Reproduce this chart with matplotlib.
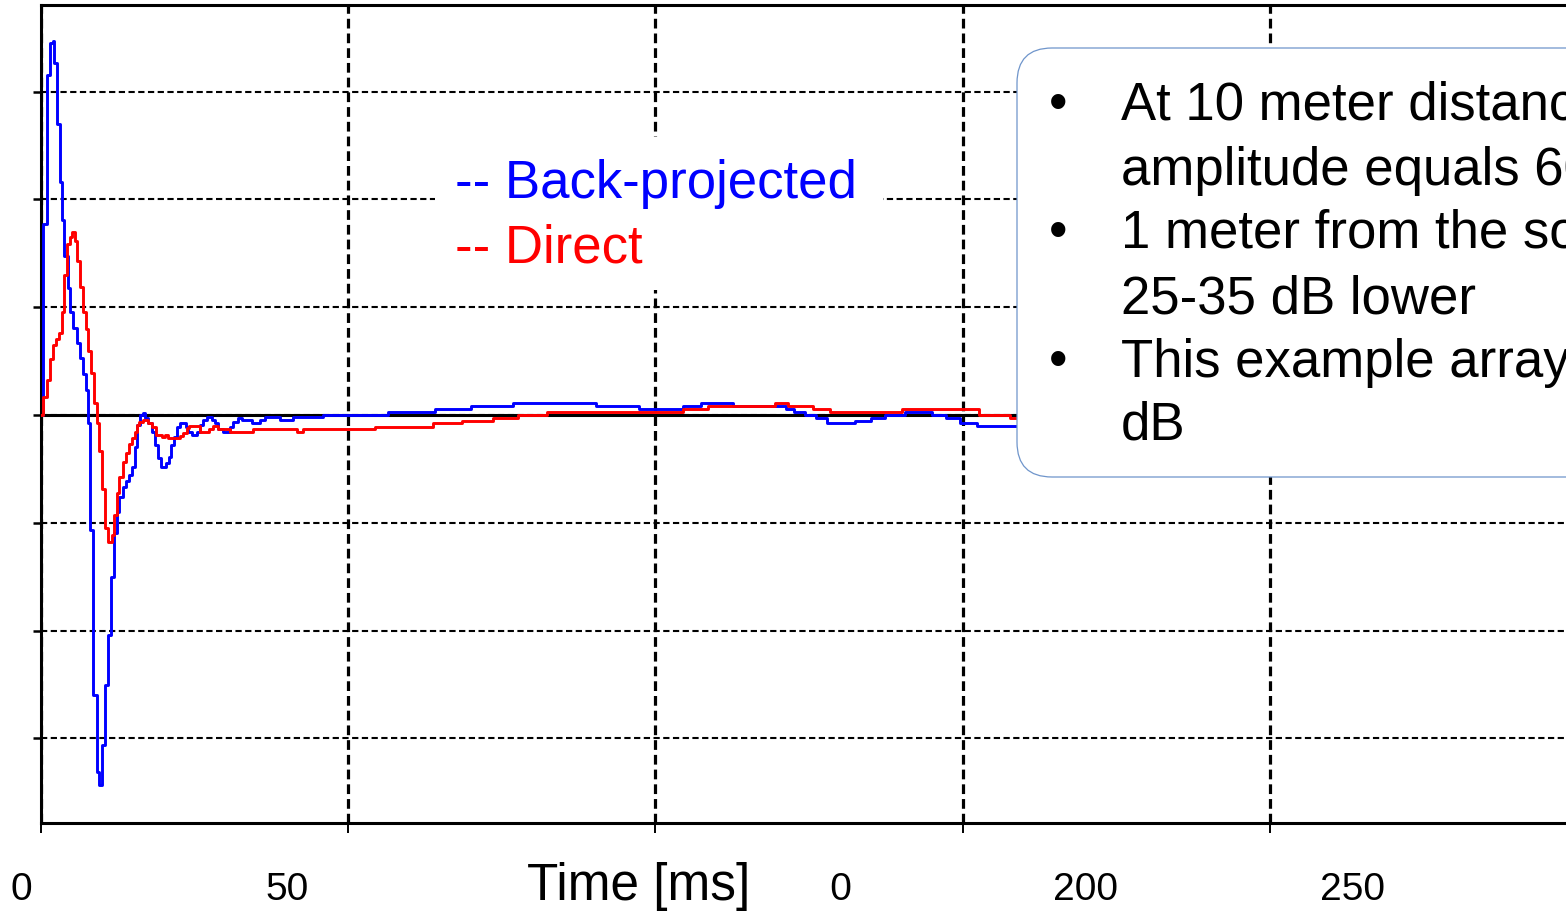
import matplotlib
matplotlib.use("Agg")
import matplotlib.pyplot as plt
from matplotlib.patches import FancyBboxPatch, Rectangle

plt.rcParams['font.family'] = ['Liberation Sans', 'DejaVu Sans']
plt.rcParams['lines.scale_dashes'] = False

# Back-projected response, time in ms, amplitude in grid units (step samples)
bp_time = [0, 0.37, 0.93, 1.46, 1.90, 2.12, 2.60, 3.09, 3.42, 3.74,
           4.34, 4.72, 5.21, 5.86, 6.35, 6.84, 7.32, 7.65, 7.97, 8.46,
           9.11, 9.44, 9.93, 10.42, 10.90, 11.39, 11.88, 12.37, 12.69, 13.34,
           13.83, 14.32, 14.81, 15.30, 15.62, 16.11, 16.60, 16.92, 17.41, 18.06,
           18.55, 19.04, 19.53, 20.34, 20.83, 21.16, 21.64, 22.13, 22.62, 23.60,
           23.92, 24.57, 25.39, 25.87, 26.36, 27.01, 27.83, 28.32, 28.80, 29.62,
           30.76, 31.24, 32.06, 32.71, 34.34, 35.64, 36.45, 38.89, 41.01, 45.89,
           56.47, 64.12, 69.98, 76.89, 90.32, 97.32, 104.47, 107.40, 112.61, 121.24,
           122.54, 124.33, 126.12, 127.91, 132.46, 135.07, 137.35, 140.60, 145.00, 147.27,
           149.55, 152.32, 165.0]
bp_amp = [0.0, 1.772, 3.154, 3.451, 3.472, 3.265, 2.699, 2.161, 1.809, 1.475,
          1.178, 0.955, 0.807, 0.668, 0.529, 0.380, 0.232, -0.074, -1.067, -2.597,
          -3.312, -3.432, -3.061, -2.505, -2.041, -1.503, -1.095, -0.900, -0.761, -0.668,
          -0.612, -0.557, -0.482, -0.297, -0.093, 0.0, 0.019, -0.028, -0.074, -0.158,
          -0.278, -0.399, -0.482, -0.445, -0.390, -0.278, -0.204, -0.111, -0.074, -0.111,
          -0.158, -0.186, -0.158, -0.093, -0.046, -0.019, -0.046, -0.074, -0.130, -0.158,
          -0.111, -0.065, -0.028, -0.046, -0.074, -0.046, -0.019, -0.046, -0.019, 0.0,
          0.025, 0.053, 0.083, 0.109, 0.083, 0.053, 0.083, 0.109, 0.083, 0.056,
          0.028, 0.0, -0.028, -0.074, -0.056, -0.028, 0.0, 0.028, 0.0, -0.028,
          -0.074, -0.102, -0.102]

# Direct response
direct_time = [0, 0.37, 0.93, 1.46, 1.90, 2.39, 2.93, 3.37, 3.79, 4.18,
               4.72, 5.00, 5.53, 5.91, 6.35, 6.79, 7.27, 7.70, 8.14, 8.62,
               9.06, 9.49, 9.88, 10.42, 10.95, 11.51, 11.88, 12.32, 12.74, 13.30,
               13.78, 14.27, 14.76, 15.30, 15.57, 16.00, 16.55, 17.36, 18.01, 18.71,
               19.64, 20.18, 20.67, 22.62, 23.16, 23.71, 24.08, 25.87, 27.34, 27.99,
               28.80, 30.76, 34.45, 41.66, 42.64, 54.35, 63.79, 68.51, 73.56, 77.62,
               82.34, 104.47, 108.54, 119.45, 121.56, 125.63, 128.40, 140.11, 152.64, 157.69,
               165.0]
direct_amp = [0.0, 0.167, 0.325, 0.519, 0.649, 0.705, 0.761, 0.955, 1.299, 1.586,
              1.651, 1.698, 1.614, 1.429, 1.187, 0.955, 0.798, 0.594, 0.390, 0.111,
              -0.074, -0.334, -0.686, -1.048, -1.178, -1.113, -0.928, -0.724, -0.575, -0.436,
              -0.353, -0.269, -0.213, -0.158, -0.093, -0.065, -0.046, -0.074, -0.111, -0.186,
              -0.204, -0.186, -0.213, -0.195, -0.167, -0.121, -0.102, -0.158, -0.130, -0.102,
              -0.130, -0.158, -0.130, -0.158, -0.130, -0.109, -0.077, -0.053, -0.025, 0.0,
              0.025, 0.053, 0.083, 0.109, 0.083, 0.056, 0.028, 0.056, 0.0, -0.028,
              -0.028]

x_grid = [0, 50, 100, 150, 200, 250, 300]
y_grid = [-3, -2, -1, 0, 1, 2, 3]
label_ticks = [0, 50, 100, 150, 200, 250]
legend_lines = ["-- Back-projected", "-- Direct"]
legend_colors = ["#0000ff", "#ff0000"]
note_lines = ["At 10 meter distance the", "amplitude equals 60 dB",
              "1 meter from the source", "25-35 dB lower",
              "This example array gives", "dB"]
note_bullets = [True, False, True, False, True, False]

W, H = 1566, 913


def fx(x):
    return x / W


def fy(y):
    return (H - y) / H


fig = plt.figure(figsize=(W / 100, H / 100), dpi=100)
fig.patch.set_facecolor("white")

# tick labels sit on their own (offset) scale, as on the slide
lab_ax = fig.add_axes([fx(21), fy(823), (1352 - 21) / W, 0.001])
lab_ax.set_xlim(0, 250)
lab_ax.set_xticks(label_ticks)
lab_ax.set_yticks([])
lab_ax.tick_params(axis="x", length=0, pad=35, labelsize=28)
lab_ax.patch.set_visible(False)
for s in lab_ax.spines.values():
    s.set_visible(False)

# main axes runs past the right edge of the slide crop
ax = fig.add_axes([fx(41), fy(823), 300 * 6.145 / W, (823 - 5) / H])
ax.set_xlim(0, 300)
ax.set_ylim(-3.785, 3.803)

ax.step(bp_time, bp_amp, where="post", color="#0000ff", lw=2.1, zorder=3)
ax.step(direct_time, direct_amp, where="post", color="#ff0000", lw=2.1, zorder=3.1)
ax.axhline(0, color="black", lw=2.2, zorder=2)

ax.set_xticks(x_grid)
ax.set_yticks(y_grid)
ax.set_axisbelow(True)
ax.xaxis.grid(True, color="black", lw=2.3, ls=(0, (7.0, 3.6)))
ax.yaxis.grid(True, color="black", lw=1.5, ls=(0, (4.5, 2.5)))
ax.tick_params(axis="y", direction="out", length=6, width=1.8, labelleft=False)
ax.tick_params(axis="x", direction="out", length=7, width=1.4, labelbottom=False)
for side in ["left", "top", "bottom"]:
    ax.spines[side].set_linewidth(2.2)
ax.spines["right"].set_visible(False)

# legend as coloured text on a white patch
ax.add_patch(Rectangle((64.1, 1.160), 72.9, 1.419, facecolor="white",
                       edgecolor="none", zorder=4))
for i, (txt, col) in enumerate(zip(legend_lines, legend_colors)):
    ax.text(67.4, [2.013, 1.410][i], txt, color=col, fontsize=38,
            va="baseline", ha="left", zorder=5)

# rounded note box
note_box = FancyBboxPatch((10.17, (H - 477) / 100), 7.0, 4.29,
                          boxstyle="round,pad=0,rounding_size=0.35",
                          transform=fig.dpi_scale_trans, facecolor="white",
                          edgecolor="#6f95cb", lw=0.9, zorder=2)
fig.add_artist(note_box)
baselines = [120, 185, 248, 313, 377, 439]
for txt, bul, yb in zip(note_lines, note_bullets, baselines):
    if bul:
        fig.text(fx(1058), fy(yb), "\u2022", fontsize=38, ha="center",
                 va="baseline", zorder=5)
    fig.text(fx(1121), fy(yb), txt, fontsize=38, ha="left", va="baseline", zorder=5)

# x label with its white backing (covers the 100 label, as on the slide)
fig.add_artist(Rectangle((5.15, 0), 3.14, 0.68, transform=fig.dpi_scale_trans,
                         facecolor="white", edgecolor="none", zorder=3))
fig.text(fx(638.5), fy(900), "Time [ms]", fontsize=37, ha="center",
         va="baseline", zorder=5)

fig.savefig("out.png", dpi=100)
